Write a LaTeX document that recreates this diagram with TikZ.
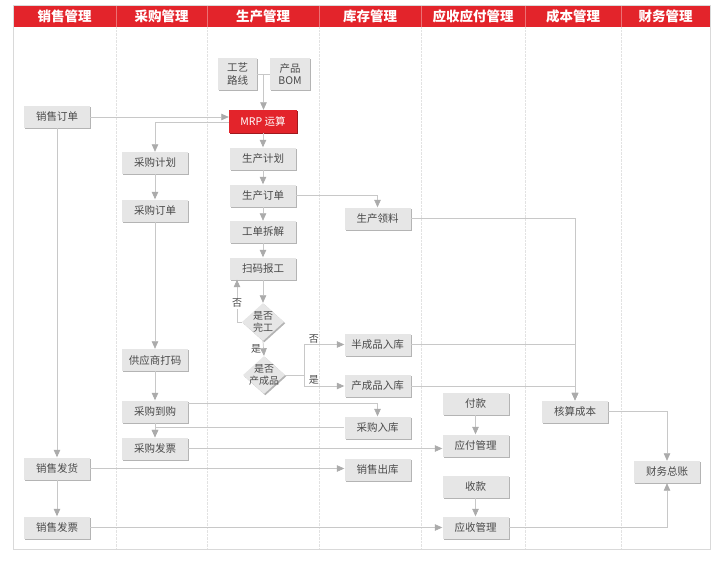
\documentclass[tikz,border=0pt]{standalone}
\usepackage{fontspec}
\setmainfont{Noto Sans CJK SC}
\usetikzlibrary{arrows.meta,calc,shapes.geometric,shadows}
\definecolor{hdred}{HTML}{E3242B}
\definecolor{boxgray}{HTML}{E6E6E6}
\definecolor{shgray}{HTML}{B4B4B4}
\definecolor{txtgray}{HTML}{4A4A4A}
\definecolor{lngray}{HTML}{C8C8C8}
\definecolor{tipgray}{HTML}{ABABAB}
\definecolor{divgray}{HTML}{E2E2E2}
\tikzset{>={Triangle[width=6.5pt,length=7.5pt,fill=tipgray,color=tipgray]}, line/.style={draw=lngray, line width=0.7pt},
box/.style={fill=boxgray, text=txtgray, font=\fontsize{10.5}{12.5}\selectfont, minimum width=66pt, minimum height=22pt, inner sep=2pt, align=center,
  drop shadow={shadow xshift=1.3pt, shadow yshift=-1.3pt, fill=shgray, opacity=1}},
hot/.style={fill=hdred, text=white, font=\fontsize{10.5}{12.5}\selectfont, minimum width=68pt, minimum height=23pt, inner sep=2pt,
  drop shadow={shadow xshift=1.3pt, shadow yshift=-1.3pt, fill=hdred!70!black, opacity=1}},
dia/.style={box, diamond, minimum width=42pt, minimum height=38pt, inner sep=-4pt, font=\fontsize{10}{11.5}\selectfont},
head/.style={text=white, font=\fontsize{13.5}{15}\selectfont\bfseries},
note/.style={text=txtgray, font=\fontsize{10}{11}\selectfont, inner sep=1pt}}

\begin{document}
\begin{tikzpicture}[x=1pt,y=-1pt]
\useasboundingbox (0,0) rectangle (720,560);
% Lanes
\fill[hdred] (13,5) rectangle (710,27);
\foreach \x in {116,207,319,421,525,621}{
  \draw[divgray, densely dotted] (\x,27) -- (\x,549);
  \draw[white, opacity=.35] (\x,5) -- (\x,27);
}
\draw[black!15, line width=0.8pt] (13,5) rectangle (710,549);
\foreach \t/\x [count=\i] in {销售管理/64.5, 采购管理/161.5, 生产管理/263, 库存管理/370, 应收应付管理/473, 成本管理/573, 财务管理/665.5}
  \node[head] (h\i) at (\x,16) {\t};
% Sales
\node[box] (xsdd) at (57,117) {销售订单};
\node[box] (xsfh) at (57,468.5) {销售发货};
\node[box] (xsfp) at (57,527.5) {销售发票};
% Purchase
\node[box] (cgjh) at (155,163) {采购计划};
\node[box] (cgdd) at (155,210.5) {采购订单};
\node[box] (gysdm) at (155,360) {供应商打码};
\node[box] (cgdg) at (155,411.5) {采购到购};
\node[box] (cgfp) at (155,448.5) {采购发票};
% Production
\node[box, minimum width=39pt, minimum height=32pt] (gylx) at (237.5,74) {工艺\\路线};
\node[box, minimum width=40pt, minimum height=32pt] (cpbom) at (290,74) {产品\\BOM};
\node[hot] (mrp) at (263,121.5) {MRP 运算};
\node[box] (scjh) at (263,158.5) {生产计划};
\node[box] (scdd) at (263,195.5) {生产订单};
\node[box] (gdcj) at (263,232) {工单拆解};
\node[box] (smbg) at (263,268.5) {扫码报工};
\node[dia] (wg) at (263,322) {是否\\完工};
\node[dia] (cpp) at (264,375) {是否\\产成品};
% Stock
\node[box] (scll) at (377.5,218.5) {生产领料};
\node[box] (bcp) at (377.5,344.5) {半成品入库};
\node[box] (ccp) at (377.5,386) {产成品入库};
\node[box] (cgrk) at (377.5,427.5) {采购入库};
\node[box] (xsck) at (377.5,469.5) {销售出库};
% Payables, receivables
\node[box] (fk) at (475.5,404) {付款};
\node[box] (yfgl) at (475.5,445.5) {应付管理};
\node[box] (sk) at (475.5,487) {收款};
\node[box] (ysgl) at (475.5,527.5) {应收管理};
% Cost, ledger
\node[box] (hscb) at (575,411.5) {核算成本};
\node[box] (cwzz) at (667,472) {财务总账};
% Connectors
\draw[line] (gylx.east) -- (cpbom.west);
\coordinate (bomj) at ($(gylx.east)!.5!(cpbom.west)$);
\draw[line,->] (bomj) -- (bomj |- mrp.north);
\draw[line,->] (xsdd.east) -- (xsdd.east -| mrp.west);
\draw[line,->] ([yshift=-1pt]mrp.west) -| (cgjh.north);
\draw[line,->] (mrp.south) -- (scjh.north);
\draw[line,->] (scjh.south) -- (scdd.north);
\draw[line,->] (scdd.south) -- (gdcj.north);
\draw[line,->] (gdcj.south) -- (smbg.north);
\draw[line,->] (smbg.south) -- (wg.north);
\draw[line,->] (wg.west) -| node[note, fill=white, pos=.72] (fou1) {否} ([xshift=-26pt]smbg.south);
\draw[line,->] (wg.south) -- node[note, left=1pt] (shi1) {是} (cpp.north);
\coordinate (fork) at ([xshift=19pt]cpp.east);
\draw[line] (cpp.east) -- (fork);
\draw[line,->] (fork) |- node[note, pos=.62, above] (fou2) {否} (bcp.west);
\draw[line,->] (fork) |- node[note, pos=.62, above] (shi2) {是} (ccp.west);
\draw[line,->] (scdd.east) -| (scll.north);
\draw[line,->] (scll.east) -| (hscb.north);
\draw[line,->] (bcp.east) -| (hscb.north);
\draw[line,->] (ccp.east) -| (hscb.north);
\draw[line,->] (cgjh.south) -- (cgdd.north);
\draw[line,->] (cgdd.south) -- (gysdm.north);
\draw[line,->] (gysdm.south) -- (cgdg.north);
\draw[line,->] (cgdg.south) -- (cgfp.north);
\draw[line,->] ([yshift=8pt]cgdg.east) -| (cgrk.north);
\draw[line,->] (cgrk.west) -| (cgfp.north);
\draw[line,->] (cgfp.east) -- (cgfp.east -| yfgl.west);
\draw[line,->] (xsdd.south) -- (xsfh.north);
\draw[line,->] (xsfh.south) -- (xsfp.north);
\draw[line,->] (xsfh.east) -- (xsfh.east -| xsck.west);
\draw[line,->] (xsfp.east) -- (ysgl.west);
\draw[line,->] (fk.south) -- (yfgl.north);
\draw[line,->] (sk.south) -- (ysgl.north);
\draw[line,->] (ysgl.east) -| (cwzz.south);
\draw[line,->] (hscb.east) -| (cwzz.north);
\end{tikzpicture}
\end{document}
